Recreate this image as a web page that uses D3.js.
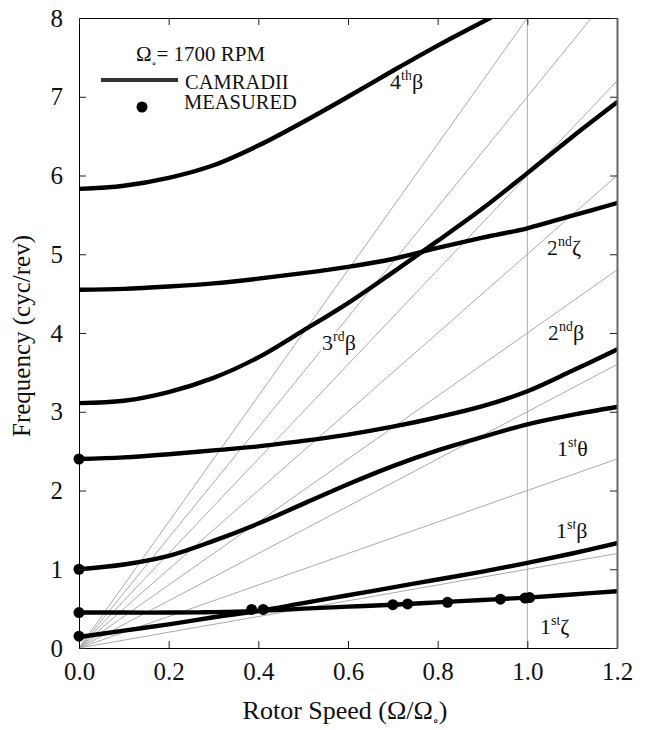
<!DOCTYPE html>
<html>
<head>
<meta charset="utf-8">
<script src="https://d3js.org/d3.v7.min.js"></script>
<style>
  body { margin: 0; background: #fff; }
  text { font-family: "Liberation Serif", "DejaVu Serif", serif; fill: #111; }
</style>
</head>
<body>
<svg id="chart" width="645" height="730"></svg>
<script>
// rotor speed samples used for every computed curve
var speed = [0, 0.1, 0.2, 0.3, 0.4, 0.5, 0.6, 0.7, 0.8, 0.9, 1.0, 1.1, 1.2]

// CAMRADII frequencies (cyc/rev)
var lag1   = [0.45, 0.45, 0.45, 0.455, 0.47, 0.50, 0.525, 0.55, 0.58, 0.61, 0.64, 0.68, 0.72]
var flap1  = [0.14, 0.22, 0.30, 0.39, 0.47, 0.57, 0.67, 0.77, 0.87, 0.97, 1.08, 1.20, 1.33]
var flap2  = [1.00, 1.06, 1.17, 1.36, 1.58, 1.83, 2.08, 2.31, 2.51, 2.68, 2.84, 2.96, 3.06]
var tors1  = [2.40, 2.42, 2.46, 2.51, 2.56, 2.63, 2.71, 2.81, 2.93, 3.07, 3.26, 3.52, 3.79]
var flap3  = [3.11, 3.14, 3.25, 3.43, 3.69, 4.03, 4.38, 4.77, 5.17, 5.58, 6.03, 6.49, 6.93]
var lag2   = [4.55, 4.56, 4.59, 4.63, 4.69, 4.76, 4.84, 4.94, 5.08, 5.21, 5.33, 5.49, 5.65]
var flap4x = [0, 0.1, 0.2, 0.3, 0.4, 0.5, 0.6, 0.7, 0.8, 0.917]
var flap4  = [5.83, 5.87, 5.97, 6.13, 6.38, 6.68, 7.00, 7.33, 7.65, 8.00]

// measured points
var measX = [0, 0, 0, 0, 0.385, 0.411, 0.70, 0.733, 0.822, 0.94, 0.995, 1.005]
var measY = [0.15, 0.45, 1.00, 2.40, 0.49, 0.49, 0.55, 0.56, 0.58, 0.62, 0.635, 0.64]

// per-rev lines through the origin
var perRev = [1, 2, 3, 4, 5, 6, 7, 8]

var xTicks = [0, 0.2, 0.4, 0.6, 0.8, 1.0, 1.2]
var yTicks = [0, 1, 2, 3, 4, 5, 6, 7, 8]

var mLeft = 79, mRight = 617, mTop = 18, mBottom = 648

var svg = d3.select("#chart")
var x = d3.scaleLinear().domain([0, 1.2]).range([mLeft, mRight])
var y = d3.scaleLinear().domain([0, 8]).range([mBottom, mTop])

svg.append("defs").append("clipPath").attr("id", "plot")
  .append("rect").attr("x", mLeft).attr("y", mTop)
  .attr("width", mRight - mLeft).attr("height", mBottom - mTop)

var plot = svg.append("g").attr("clip-path", "url(#plot)")

// gray per-rev lines
plot.selectAll("line.rev").data(perRev).enter().append("line")
  .attr("class", "rev")
  .attr("x1", x(0)).attr("y1", y(0))
  .attr("x2", n => x(Math.min(1.2, 8 / n)))
  .attr("y2", n => y(Math.min(1.2, 8 / n) * n))
  .attr("stroke", "#aaa").attr("stroke-width", 1)

// vertical line at nominal speed
plot.append("line")
  .attr("x1", x(1)).attr("x2", x(1)).attr("y1", y(0)).attr("y2", y(8))
  .attr("stroke", "#aaa").attr("stroke-width", 1)

var line = d3.line()
  .x(d => x(d[0])).y(d => y(d[1]))
  .curve(d3.curveCatmullRom.alpha(0.5))

var curves = [
  d3.zip(speed, lag1), d3.zip(speed, flap1), d3.zip(speed, flap2),
  d3.zip(speed, tors1), d3.zip(speed, flap3), d3.zip(speed, lag2),
  d3.zip(flap4x, flap4)
]

plot.selectAll("path.mode").data(curves).enter().append("path")
  .attr("class", "mode")
  .attr("d", line)
  .attr("fill", "none").attr("stroke", "#000")
  .attr("stroke-width", 4.4).attr("stroke-linecap", "round")

svg.selectAll("circle.meas").data(d3.zip(measX, measY)).enter().append("circle")
  .attr("class", "meas")
  .attr("cx", d => x(d[0])).attr("cy", d => y(d[1]))
  .attr("r", 5.5).attr("fill", "#000")

// axes, ticks pointing inward
var fmt = d3.format(".1f")
svg.append("g").attr("transform", `translate(0,${mBottom})`)
  .call(d3.axisBottom(x).tickValues(xTicks).tickFormat(fmt).tickSize(-7).tickSizeOuter(0).tickPadding(14))
svg.append("g").attr("transform", `translate(${mLeft},0)`)
  .call(d3.axisLeft(y).tickValues(yTicks).tickFormat(d3.format("d")).tickSize(-7).tickSizeOuter(0).tickPadding(16))
svg.append("g").attr("transform", `translate(0,${mTop})`)
  .call(d3.axisTop(x).tickValues(xTicks).tickFormat("").tickSize(-7).tickSizeOuter(0))
var rAxis = svg.append("g").attr("transform", `translate(${mRight},0)`)
  .call(d3.axisRight(y).tickValues(yTicks).tickFormat("").tickSize(-7).tickSizeOuter(0))
rAxis.select(".domain").attr("stroke", "#666").attr("stroke-width", 2)

svg.selectAll(".tick text").attr("font-size", 25).attr("font-family", "Liberation Serif").attr("fill", "#111")
svg.selectAll(".tick line").attr("stroke", "#222")

// axis titles
var xt = svg.append("text").attr("x", 345).attr("y", 719)
  .attr("text-anchor", "middle").attr("font-size", 26)
xt.append("tspan").text("Rotor Speed (Ω/Ω")
xt.append("tspan").attr("font-size", 12).attr("dy", 6).text("∘")
xt.append("tspan").attr("dy", -6).text(")")

svg.append("text")
  .attr("transform", "translate(30,336) rotate(-90)")
  .attr("text-anchor", "middle").attr("font-size", 25)
  .text("Frequency (cyc/rev)")

// legend
var lg = svg.append("text").attr("x", 136).attr("y", 61).attr("font-size", 21)
lg.append("tspan").text("Ω")
lg.append("tspan").attr("font-size", 10).attr("dy", 6).text("∘")
lg.append("tspan").attr("dy", -6).text("= 1700 RPM")
svg.append("line").attr("x1", 101).attr("x2", 178).attr("y1", 80).attr("y2", 80)
  .attr("stroke", "#333").attr("stroke-width", 4)
svg.append("text").attr("x", 185).attr("y", 89).attr("font-size", 20.5).text("CAMRADII")
svg.append("text").attr("x", 184).attr("y", 109).attr("font-size", 20.5).text("MEASURED")
svg.append("circle").attr("cx", 142).attr("cy", 107).attr("r", 5.5).attr("fill", "#000")

// mode labels
var modeNum = ["4", "2", "3", "2", "1", "1", "1"]
var modeSup = ["th", "nd", "rd", "nd", "st", "st", "st"]
var modeSym = ["β", "ζ", "β", "β", "θ", "β", "ζ"]
var labX = [390, 547, 322, 548, 557, 556, 540]
var labY = [89, 255, 350, 340, 456, 538, 634]

modeNum.forEach((n, i) => {
  var t = svg.append("text").attr("x", labX[i]).attr("y", labY[i]).attr("font-size", 22)
    .attr("stroke", "#fff").attr("stroke-width", 5).attr("paint-order", "stroke")
  t.append("tspan").text(n)
  t.append("tspan").attr("font-size", 14).attr("dy", -9).text(modeSup[i])
  t.append("tspan").attr("dy", 9).text(modeSym[i])
})
</script>
</body>
</html>
